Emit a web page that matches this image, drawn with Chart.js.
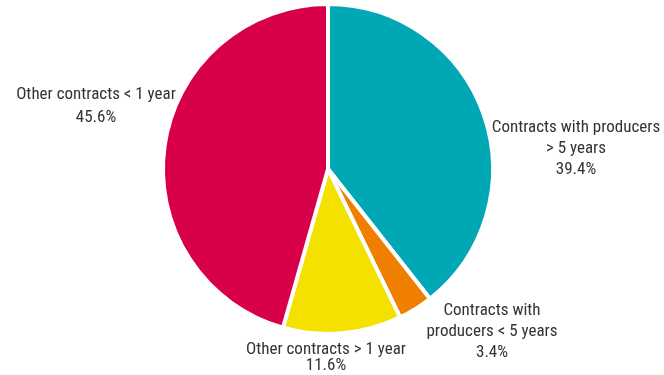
<!DOCTYPE html>
<html>
<head>
<meta charset="utf-8">
<script src="https://cdn.jsdelivr.net/npm/chart.js@4"></script>
<style>
  html, body { margin: 0; padding: 0; background: #fff; }
  #wrap { width: 664px; height: 375px; position: relative; }
</style>
</head>
<body>
<div id="wrap"><canvas id="pie"></canvas></div>
<script>
;
(function(window, document) {
    'use strict';

    // data
    let categories = [
        ['Contracts with producers', '> 5 years'],
        ['Contracts with', 'producers < 5 years'],
        ['Other contracts > 1 year'],
        ['Other contracts < 1 year']
    ];
    let shares = [39.4, 3.4, 11.6, 45.6];

    // styles
    let sliceColors = ['#00a8b5', '#f07f00', '#f4e100', '#d8004b'];
    let labelFont = '17px "Liberation Sans Narrow", "Roboto Condensed", "DejaVu Sans Condensed", sans-serif';
    let lineGap = [21, 21, 16, 23];
    // label anchors (centre of first line) in px
    let labelAnchors = [[576, 128], [492, 311], [326, 350], [96, 95]];

    let labelPlugin = {
        id: 'sliceLabels',
        afterDraw: function(chart) {
            let ctx = chart.ctx;
            ctx.save();
            ctx.font = labelFont;
            ctx.fillStyle = '#333333';
            ctx.textAlign = 'center';
            ctx.textBaseline = 'middle';
            categories.forEach(function(lines, i) {
                let x = labelAnchors[i][0];
                let y = labelAnchors[i][1];
                let all = lines.concat([shares[i].toFixed(1) + '%']);
                all.forEach(function(t, k) {
                    ctx.fillText(t, x, y + k * lineGap[i]);
                });
            });
            ctx.restore();
        }
    };

    new Chart(document.getElementById('pie'), {
        type: 'pie',
        data: {
            labels: categories.map(function(c) { return c.join(' '); }),
            datasets: [{
                data: shares,
                backgroundColor: sliceColors,
                borderColor: '#ffffff',
                borderWidth: 4
            }]
        },
        options: {
            responsive: true,
            maintainAspectRatio: false,
            animation: false,
            layout: { padding: { top: 2, bottom: 39, left: 0, right: 8 } },
            plugins: {
                legend: { display: false },
                tooltip: { enabled: false }
            }
        },
        plugins: [labelPlugin]
    });

})(window, document);
</script>
</body>
</html>
